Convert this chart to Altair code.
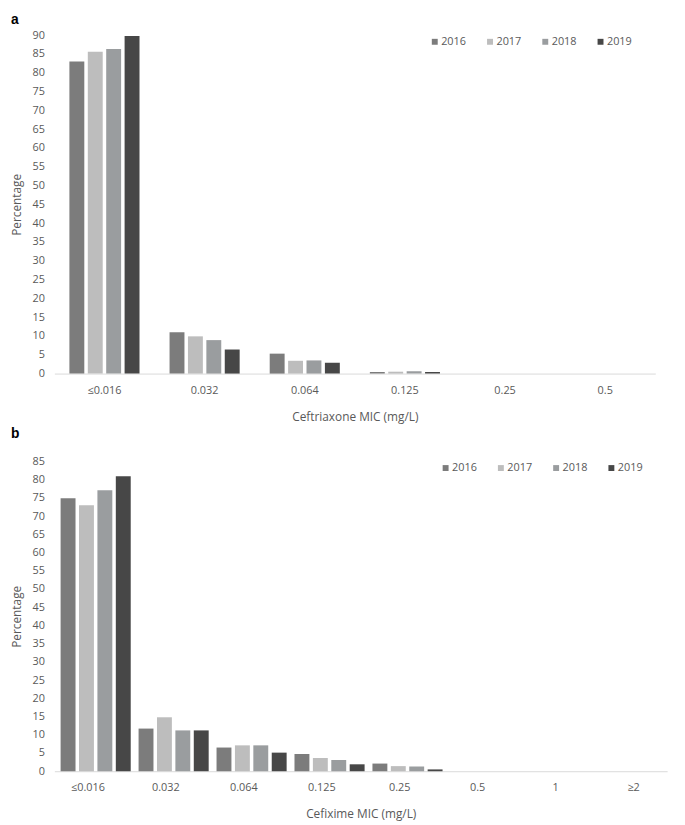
import altair as alt
import pandas as pd

years = ["2016", "2017", "2018", "2019"]
year_colors = ["#7c7c7c", "#bdbdbd", "#9a9d9f", "#474747"]

# Panel a: Ceftriaxone
mic_a = ["≤0.016", "0.032", "0.064", "0.125", "0.25", "0.5"]
a_2016 = [83.0, 11.0, 5.3, 0.4, 0.0, 0.0]
a_2017 = [85.6, 9.9, 3.4, 0.5, 0.0, 0.0]
a_2018 = [86.3, 8.9, 3.5, 0.6, 0.0, 0.0]
a_2019 = [89.8, 6.4, 2.9, 0.4, 0.0, 0.0]

# Panel b: Cefixime
mic_b = ["≤0.016", "0.032", "0.064", "0.125", "0.25", "0.5", "1", "≥2"]
b_2016 = [74.9, 11.7, 6.5, 4.7, 2.1, 0.0, 0.0, 0.0]
b_2017 = [73.0, 14.8, 7.1, 3.6, 1.4, 0.0, 0.0, 0.0]
b_2018 = [77.1, 11.2, 7.1, 3.1, 1.3, 0.0, 0.0, 0.0]
b_2019 = [80.9, 11.2, 5.1, 1.9, 0.5, 0.0, 0.0, 0.0]

TEXT = "#595959"
FONT = "Open Sans"


def make_panel(cats, series, ymax, w, h, letter, title_offset, xtitle, xtitle_pad,
               legx, outer_pad):
    rows = []
    for yr, vals in zip(years, series):
        for c, v in zip(cats, vals):
            rows.append({"mic": c, "year": yr, "pct": v})
    df = pd.DataFrame(rows)
    return (
        alt.Chart(
            df,
            title=alt.Title(
                letter, anchor="start", frame="group", dx=-44, offset=title_offset,
                fontSize=14, fontWeight="bold", font="Liberation Sans", color="black",
            ),
        )
        .mark_bar()
        .encode(
            x=alt.X(
                "mic:N", sort=cats,
                scale=alt.Scale(paddingInner=0.3, paddingOuter=outer_pad),
                axis=alt.Axis(
                    title=xtitle, labelAngle=0, ticks=False, domainColor="#d9d9d9",
                    domainWidth=1, labelPadding=11, titlePadding=xtitle_pad,
                    labelFontSize=11, titleFontSize=12, labelColor=TEXT, titleColor=TEXT,
                    titleFontWeight="normal", labelFont=FONT, titleFont=FONT,
                ),
            ),
            xOffset=alt.XOffset(
                "year:N", sort=years,
                scale=alt.Scale(paddingInner=0.19, paddingOuter=0),
            ),
            y=alt.Y(
                "pct:Q",
                scale=alt.Scale(domain=[0, ymax], nice=False),
                axis=alt.Axis(
                    title="Percentage", values=list(range(0, ymax + 1, 5)),
                    grid=False, domain=False, ticks=False, labelPadding=10,
                    titlePadding=9, labelFontSize=11, titleFontSize=12,
                    labelColor=TEXT, titleColor=TEXT, titleFontWeight="normal",
                    labelFont=FONT, titleFont=FONT,
                ),
            ),
            color=alt.Color(
                "year:N",
                scale=alt.Scale(domain=years, range=year_colors),
                legend=alt.Legend(
                    title=None, orient="none", legendX=legx, legendY=1,
                    direction="horizontal", symbolType="square", symbolSize=36,
                    symbolStrokeWidth=0, labelFontSize=11, labelColor=TEXT,
                    labelFont=FONT, columnPadding=18, labelOffset=1,
                ),
            ),
        )
        .properties(width=w, height=h)
    )


panel_a = make_panel(
    mic_a, [a_2016, a_2017, a_2018, a_2019], 90, 609, 343, "a", 2,
    "Ceftriaxone MIC (mg/L)", 17, 380, 0.15,
)
panel_b = make_panel(
    mic_b, [b_2016, b_2017, b_2018, b_2019], 85, 621, 314, "b", 15,
    "Cefixime MIC (mg/L)", 16, 391, 0.08,
)

chart = (
    alt.vconcat(panel_a, panel_b, spacing=4)
    .resolve_legend(color="independent")
    .properties(padding={"top": 0, "left": 2, "right": 0, "bottom": 0})
    .configure_view(strokeWidth=0)
)

chart.save("out.html", embed_options={"renderer": "svg", "actions": False})
